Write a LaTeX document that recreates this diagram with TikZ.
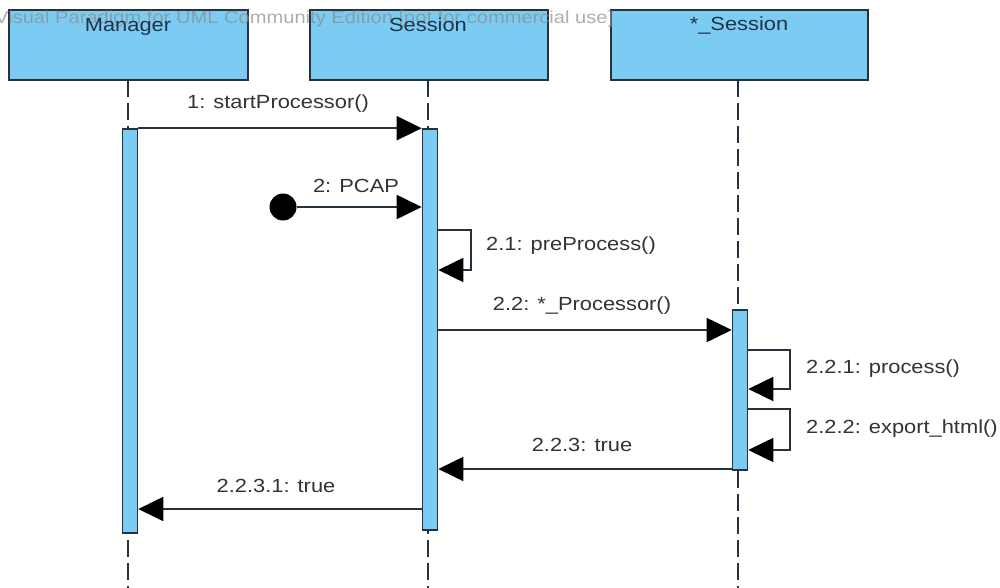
\documentclass[tikz,border=0pt]{standalone}
\usepackage{fontspec}
\setmainfont{Liberation Sans}[FakeStretch=1.15]
\usetikzlibrary{arrows.meta}
\definecolor{lblue}{HTML}{7CCBF2}
\definecolor{bord}{HTML}{26333F}
\definecolor{txt}{HTML}{333333}
\definecolor{htxt}{HTML}{1F3447}
\definecolor{wm}{HTML}{8C8C8C}
\begin{document}
\begin{tikzpicture}[x=1pt,y=-1pt,
  headbox/.style={draw=bord,fill=lblue,line width=2pt,minimum height=70pt,inner sep=0pt},
  actbox/.style={draw=bord,fill=lblue,line width=1.6pt,minimum width=15pt,inner sep=0pt},
  lifeline/.style={draw=bord,line width=1.8pt,dash pattern=on 17pt off 6pt},
  msgline/.style={draw=bord,line width=1.8pt,-{Triangle[length=25pt,width=24pt,fill=black,color=black]}},
  lbl/.style={text=txt,font=\fontsize{19}{21}\selectfont,inner sep=0pt,anchor=base},
  hlbl/.style={text=htxt,font=\fontsize{19}{21}\selectfont,inner sep=0pt,anchor=base},
]
\useasboundingbox[fill=white] (0,0) rectangle (1000,588);
% lifelines
\coordinate (lmTop) at (128,80);  \coordinate (lmBot) at (128,588);
\coordinate (lsTop) at (428,80);  \coordinate (lsBot) at (428,588);
\coordinate (lxTop) at (738,80);  \coordinate (lxBot) at (738,588);
\draw[lifeline] (lmTop) -- (lmBot);
\draw[lifeline] (lsTop) -- (lsBot);
\draw[lifeline] (lxTop) -- (lxBot);
% header boxes
\node[headbox,minimum width=239pt] (hM) at (128.5,45) {};
\node[headbox,minimum width=238pt] (hS) at (429,45) {};
\node[headbox,minimum width=257pt] (hX) at (739.5,45) {};
\node[anchor=base west,text=wm,opacity=0.7,font=\fontsize{17.5}{20}\selectfont,inner sep=0pt] (wmark) at (-5,24) {Visual Paradigm for UML Community Edition [not for commercial use]};
\node[hlbl] (tM) at (128,32) {Manager};
\node[hlbl] (tS) at (428,32) {Session};
\node[hlbl] (tX) at (739,31) {*\_Session};
% activations
\node[actbox,minimum height=404pt] (aM) at (130,331) {};
\node[actbox,minimum height=401pt] (aS) at (430,329.5) {};
\node[actbox,minimum height=160pt] (aX) at (740,390) {};
% y-levels
\coordinate (y2) at (0,207);
\coordinate (y21a) at (0,230); \coordinate (y21b) at (0,270);
\coordinate (y22) at (0,330);
\coordinate (y221a) at (0,350); \coordinate (y221b) at (0,389);
\coordinate (y222a) at (0,409); \coordinate (y222b) at (0,450);
\coordinate (y223) at (0,469);
\coordinate (y2231) at (0,509);
% messages
\draw[msgline] (aM.north east) -- (aS.north west);
\node[circle,fill=black,minimum size=27pt,inner sep=0pt] (found) at (283,207) {};
\draw[msgline] (found) -- (aS.west |- y2);
\draw[msgline] (aS.east |- y21a) -- ++(33,0) |- (aS.east |- y21b);
\draw[msgline] (aS.east |- y22) -- (aX.west |- y22);
\draw[msgline] (aX.east |- y221a) -- ++(42,0) |- (aX.east |- y221b);
\draw[msgline] (aX.east |- y222a) -- ++(42,0) |- (aX.east |- y222b);
\draw[msgline] (aX.west |- y223) -- (aS.east |- y223);
\draw[msgline] (aS.west |- y2231) -- (aM.east |- y2231);
% labels
\node[lbl] (l1) at (278,109) {1: startProcessor()};
\node[lbl] (l2) at (356,192) {2: PCAP};
\node[lbl] (l21) at (571,250) {2.1: preProcess()};
\node[lbl] (l22) at (582,310) {2.2: *\_Processor()};
\node[lbl,anchor=base west] (l221) at (806,373) {2.2.1: process()};
\node[lbl,anchor=base west] (l222) at (806,433) {2.2.2: export\_html()};
\node[lbl] (l223) at (582,451) {2.2.3: true};
\node[lbl] (l2231) at (276,492) {2.2.3.1: true};
\end{tikzpicture}
\end{document}
